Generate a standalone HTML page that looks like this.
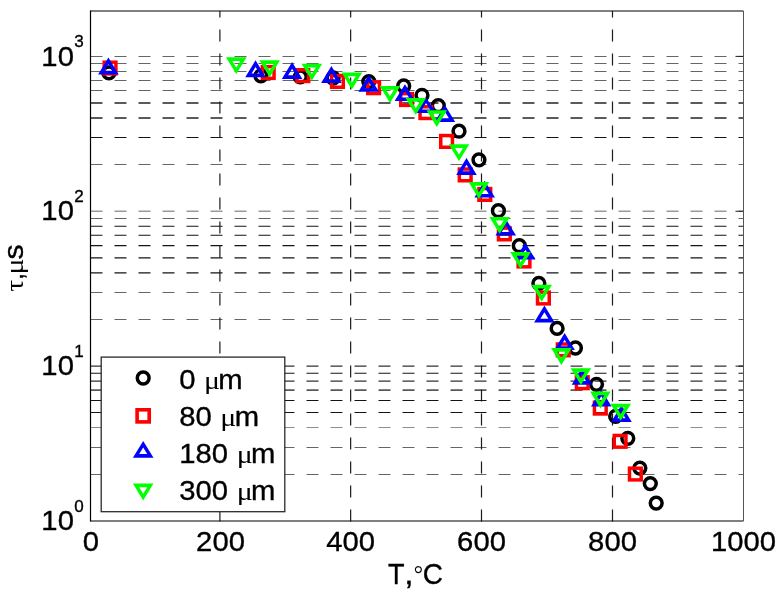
<!DOCTYPE html>
<html lang="en"><head><meta charset="utf-8"><title>τ vs T</title>
<style>html,body{margin:0;padding:0;background:#fff;}body{width:782px;height:594px;overflow:hidden;}svg{display:block;}text{font-family:"Liberation Sans",sans-serif;fill:#000;stroke:#000;stroke-width:0.35px;}.sy{font-family:"Liberation Serif","DejaVu Serif",serif;stroke:none;}</style></head><body>
<svg width="782" height="594" viewBox="0 0 782 594">
<rect x="0" y="0" width="782" height="594" fill="#fff"/>
<g fill="none" stroke-dasharray="12 12">
<line x1="90.5" y1="56.50" x2="743.5" y2="56.50" stroke="#666666" stroke-width="1.0"/>
<line x1="90.5" y1="63.50" x2="743.5" y2="63.50" stroke="#666666" stroke-width="1.0"/>
<line x1="90.5" y1="71.50" x2="743.5" y2="71.50" stroke="#666666" stroke-width="1.0"/>
<line x1="90.5" y1="80.50" x2="743.5" y2="80.50" stroke="#666666" stroke-width="1.0"/>
<line x1="90.5" y1="90.50" x2="743.5" y2="90.50" stroke="#666666" stroke-width="1.0"/>
<line x1="90.5" y1="103.01" x2="743.5" y2="103.01" stroke="#5a5a5a" stroke-width="1.9"/>
<line x1="90.5" y1="118.02" x2="743.5" y2="118.02" stroke="#5a5a5a" stroke-width="1.9"/>
<line x1="90.5" y1="137.50" x2="743.5" y2="137.50" stroke="#141414" stroke-width="1.0"/>
<line x1="90.5" y1="164.50" x2="743.5" y2="164.50" stroke="#666666" stroke-width="1.0"/>
<line x1="90.5" y1="211.26" x2="743.5" y2="211.26" stroke="#9a9a9a" stroke-width="1.7"/>
<line x1="90.5" y1="218.50" x2="743.5" y2="218.50" stroke="#666666" stroke-width="1.0"/>
<line x1="90.5" y1="226.27" x2="743.5" y2="226.27" stroke="#141414" stroke-width="1.15"/>
<line x1="90.5" y1="235.25" x2="743.5" y2="235.25" stroke="#141414" stroke-width="1.15"/>
<line x1="90.5" y1="245.62" x2="743.5" y2="245.62" stroke="#141414" stroke-width="1.15"/>
<line x1="90.5" y1="257.88" x2="743.5" y2="257.88" stroke="#141414" stroke-width="1.15"/>
<line x1="90.5" y1="272.89" x2="743.5" y2="272.89" stroke="#141414" stroke-width="1.15"/>
<line x1="90.5" y1="292.50" x2="743.5" y2="292.50" stroke="#666666" stroke-width="1.0"/>
<line x1="90.5" y1="319.50" x2="743.5" y2="319.50" stroke="#666666" stroke-width="1.0"/>
<line x1="90.5" y1="366.13" x2="743.5" y2="366.13" stroke="#333333" stroke-width="1.45"/>
<line x1="90.5" y1="373.22" x2="743.5" y2="373.22" stroke="#141414" stroke-width="1.15"/>
<line x1="90.5" y1="381.14" x2="743.5" y2="381.14" stroke="#333333" stroke-width="1.45"/>
<line x1="90.5" y1="390.12" x2="743.5" y2="390.12" stroke="#5a5a5a" stroke-width="1.9"/>
<line x1="90.5" y1="400.50" x2="743.5" y2="400.50" stroke="#141414" stroke-width="1.0"/>
<line x1="90.5" y1="412.50" x2="743.5" y2="412.50" stroke="#141414" stroke-width="1.0"/>
<line x1="90.5" y1="427.50" x2="743.5" y2="427.50" stroke="#8c8c8c" stroke-width="1.0"/>
<line x1="90.5" y1="447.50" x2="743.5" y2="447.50" stroke="#666666" stroke-width="1.0"/>
<line x1="90.5" y1="474.50" x2="743.5" y2="474.50" stroke="#666666" stroke-width="1.0"/>
</g>
<g stroke="#1c1c1c" stroke-width="1.2" fill="none" stroke-dasharray="12 12">
<line x1="219.9" y1="521.5" x2="219.9" y2="11.0"/>
<line x1="350.65" y1="521.5" x2="350.65" y2="11.0"/>
<line x1="481.5" y1="521.5" x2="481.5" y2="11.0"/>
<line x1="612.5" y1="521.5" x2="612.5" y2="11.0"/>
</g>
<g stroke="#1c1c1c" stroke-width="1" fill="none">
<line x1="735.5" y1="366.13" x2="743.5" y2="366.13"/>
<line x1="735.5" y1="211.26" x2="743.5" y2="211.26"/>
<line x1="735.5" y1="56.39" x2="743.5" y2="56.39"/>
</g>
<line x1="90.5" y1="11.0" x2="743.5" y2="11.0" stroke="#000" stroke-width="1.1"/>
<line x1="90.5" y1="521.0" x2="743.5" y2="521.0" stroke="#000" stroke-width="1.1"/>
<line x1="743.5" y1="11.0" x2="743.5" y2="521.0" stroke="#555" stroke-width="1.0"/>
<line x1="90.5" y1="10.5" x2="90.5" y2="521.5" stroke="#000" stroke-width="1.2"/>
<g>
<circle cx="108.90" cy="72.90" r="5.9" fill="none" stroke="#000" stroke-width="3.5"/>
<circle cx="260.90" cy="75.80" r="5.9" fill="none" stroke="#000" stroke-width="3.5"/>
<circle cx="300.30" cy="76.90" r="5.9" fill="none" stroke="#000" stroke-width="3.5"/>
<circle cx="333.10" cy="78.00" r="5.9" fill="none" stroke="#000" stroke-width="3.5"/>
<circle cx="368.80" cy="81.60" r="5.9" fill="none" stroke="#000" stroke-width="3.5"/>
<circle cx="403.70" cy="85.90" r="5.9" fill="none" stroke="#000" stroke-width="3.5"/>
<circle cx="422.00" cy="95.30" r="5.9" fill="none" stroke="#000" stroke-width="3.5"/>
<circle cx="438.30" cy="105.70" r="5.9" fill="none" stroke="#000" stroke-width="3.5"/>
<circle cx="459.00" cy="131.20" r="5.9" fill="none" stroke="#000" stroke-width="3.5"/>
<circle cx="478.95" cy="159.85" r="5.9" fill="none" stroke="#000" stroke-width="3.5"/>
<circle cx="498.40" cy="210.70" r="5.9" fill="none" stroke="#000" stroke-width="3.5"/>
<circle cx="519.30" cy="245.70" r="5.9" fill="none" stroke="#000" stroke-width="3.5"/>
<circle cx="538.85" cy="283.35" r="5.9" fill="none" stroke="#000" stroke-width="3.5"/>
<circle cx="557.10" cy="328.40" r="5.9" fill="none" stroke="#000" stroke-width="3.5"/>
<circle cx="575.40" cy="348.00" r="5.9" fill="none" stroke="#000" stroke-width="3.5"/>
<circle cx="596.50" cy="384.30" r="5.9" fill="none" stroke="#000" stroke-width="3.5"/>
<circle cx="615.65" cy="416.30" r="5.9" fill="none" stroke="#000" stroke-width="3.5"/>
<circle cx="627.80" cy="438.30" r="5.9" fill="none" stroke="#000" stroke-width="3.5"/>
<circle cx="639.85" cy="468.10" r="5.9" fill="none" stroke="#000" stroke-width="3.5"/>
<circle cx="650.30" cy="483.60" r="5.9" fill="none" stroke="#000" stroke-width="3.5"/>
<circle cx="656.20" cy="503.10" r="5.9" fill="none" stroke="#000" stroke-width="3.5"/>
<rect x="104.20" y="62.20" width="11.7" height="11.7" fill="none" stroke="#ff0000" stroke-width="3.5"/>
<rect x="262.35" y="66.65" width="11.7" height="11.7" fill="none" stroke="#ff0000" stroke-width="3.5"/>
<rect x="296.95" y="69.75" width="11.7" height="11.7" fill="none" stroke="#ff0000" stroke-width="3.5"/>
<rect x="331.60" y="75.55" width="11.7" height="11.7" fill="none" stroke="#ff0000" stroke-width="3.5"/>
<rect x="367.75" y="81.85" width="11.7" height="11.7" fill="none" stroke="#ff0000" stroke-width="3.5"/>
<rect x="400.75" y="93.65" width="11.7" height="11.7" fill="none" stroke="#ff0000" stroke-width="3.5"/>
<rect x="420.05" y="106.75" width="11.7" height="11.7" fill="none" stroke="#ff0000" stroke-width="3.5"/>
<rect x="440.75" y="135.55" width="11.7" height="11.7" fill="none" stroke="#ff0000" stroke-width="3.5"/>
<rect x="459.35" y="169.05" width="11.7" height="11.7" fill="none" stroke="#ff0000" stroke-width="3.5"/>
<rect x="478.95" y="188.55" width="11.7" height="11.7" fill="none" stroke="#ff0000" stroke-width="3.5"/>
<rect x="498.50" y="228.05" width="11.7" height="11.7" fill="none" stroke="#ff0000" stroke-width="3.5"/>
<rect x="518.15" y="255.15" width="11.7" height="11.7" fill="none" stroke="#ff0000" stroke-width="3.5"/>
<rect x="537.55" y="292.15" width="11.7" height="11.7" fill="none" stroke="#ff0000" stroke-width="3.5"/>
<rect x="557.40" y="344.00" width="11.7" height="11.7" fill="none" stroke="#ff0000" stroke-width="3.5"/>
<rect x="576.40" y="376.85" width="11.7" height="11.7" fill="none" stroke="#ff0000" stroke-width="3.5"/>
<rect x="594.45" y="402.25" width="11.7" height="11.7" fill="none" stroke="#ff0000" stroke-width="3.5"/>
<rect x="614.25" y="435.45" width="11.7" height="11.7" fill="none" stroke="#ff0000" stroke-width="3.5"/>
<rect x="629.50" y="468.20" width="11.7" height="11.7" fill="none" stroke="#ff0000" stroke-width="3.5"/>
<path fill="#0000ff" fill-rule="evenodd" d="M98.10 74.40L118.70 74.40L108.40 57.50ZM104.40 70.70L112.40 70.70L108.40 64.20Z"/>
<path fill="#0000ff" fill-rule="evenodd" d="M245.25 77.20L265.85 77.20L255.55 60.30ZM251.55 73.50L259.55 73.50L255.55 67.00Z"/>
<path fill="#0000ff" fill-rule="evenodd" d="M281.80 79.00L302.40 79.00L292.10 62.10ZM288.10 75.30L296.10 75.30L292.10 68.80Z"/>
<path fill="#0000ff" fill-rule="evenodd" d="M321.10 83.00L341.70 83.00L331.40 66.10ZM327.40 79.30L335.40 79.30L331.40 72.80Z"/>
<path fill="#0000ff" fill-rule="evenodd" d="M358.40 91.85L379.00 91.85L368.70 74.95ZM364.70 88.15L372.70 88.15L368.70 81.65Z"/>
<path fill="#0000ff" fill-rule="evenodd" d="M394.65 101.10L415.25 101.10L404.95 84.20ZM400.95 97.40L408.95 97.40L404.95 90.90Z"/>
<path fill="#0000ff" fill-rule="evenodd" d="M415.80 113.10L436.40 113.10L426.10 97.70ZM422.10 109.40L430.10 109.40L426.10 102.90Z"/>
<path fill="#0000ff" fill-rule="evenodd" d="M434.60 121.90L455.20 121.90L444.90 105.00ZM440.90 118.20L448.90 118.20L444.90 111.70Z"/>
<path fill="#0000ff" fill-rule="evenodd" d="M456.20 174.90L476.80 174.90L466.50 158.00ZM462.50 171.20L470.50 171.20L466.50 164.70Z"/>
<path fill="#0000ff" fill-rule="evenodd" d="M474.40 197.60L495.00 197.60L484.70 180.70ZM480.70 193.90L488.70 193.90L484.70 187.40Z"/>
<path fill="#0000ff" fill-rule="evenodd" d="M495.45 235.60L516.05 235.60L505.75 218.70ZM501.75 231.90L509.75 231.90L505.75 225.40Z"/>
<path fill="#0000ff" fill-rule="evenodd" d="M515.00 259.60L535.60 259.60L525.30 242.70ZM521.30 255.90L529.30 255.90L525.30 249.40Z"/>
<path fill="#0000ff" fill-rule="evenodd" d="M534.10 322.50L554.70 322.50L544.40 305.60ZM540.40 318.80L548.40 318.80L544.40 312.30Z"/>
<path fill="#0000ff" fill-rule="evenodd" d="M554.30 350.00L574.90 350.00L564.60 333.10ZM560.60 346.30L568.60 346.30L564.60 339.80Z"/>
<path fill="#0000ff" fill-rule="evenodd" d="M571.70 384.80L592.30 384.80L582.00 367.90ZM578.00 381.10L586.00 381.10L582.00 374.60Z"/>
<path fill="#0000ff" fill-rule="evenodd" d="M591.00 406.50L611.60 406.50L601.30 389.60ZM597.30 402.80L605.30 402.80L601.30 396.30Z"/>
<path fill="#0000ff" fill-rule="evenodd" d="M611.15 421.90L631.75 421.90L621.45 405.00ZM617.45 418.20L625.45 418.20L621.45 411.70Z"/>
<path fill="#00ff00" fill-rule="evenodd" d="M226.00 57.20L246.60 57.20L236.30 74.10ZM232.30 60.90L240.30 60.90L236.30 67.40Z"/>
<path fill="#00ff00" fill-rule="evenodd" d="M259.35 60.35L279.95 60.35L269.65 77.25ZM265.65 64.05L273.65 64.05L269.65 70.55Z"/>
<path fill="#00ff00" fill-rule="evenodd" d="M301.55 63.70L322.15 63.70L311.85 80.60ZM307.85 67.40L315.85 67.40L311.85 73.90Z"/>
<path fill="#00ff00" fill-rule="evenodd" d="M341.50 72.50L362.10 72.50L351.80 89.40ZM347.80 76.20L355.80 76.20L351.80 82.70Z"/>
<path fill="#00ff00" fill-rule="evenodd" d="M379.70 86.10L400.30 86.10L390.00 103.00ZM386.00 89.80L394.00 89.80L390.00 96.30Z"/>
<path fill="#00ff00" fill-rule="evenodd" d="M405.50 98.00L426.10 98.00L415.80 114.90ZM411.80 101.70L419.80 101.70L415.80 108.20Z"/>
<path fill="#00ff00" fill-rule="evenodd" d="M426.50 110.15L447.10 110.15L436.80 127.05ZM432.80 113.85L440.80 113.85L436.80 120.35Z"/>
<path fill="#00ff00" fill-rule="evenodd" d="M448.70 144.20L469.30 144.20L459.00 161.10ZM455.00 147.90L463.00 147.90L459.00 154.40Z"/>
<path fill="#00ff00" fill-rule="evenodd" d="M468.60 182.10L489.20 182.10L478.90 199.00ZM474.90 185.80L482.90 185.80L478.90 192.30Z"/>
<path fill="#00ff00" fill-rule="evenodd" d="M489.35 216.90L509.95 216.90L499.65 233.80ZM495.65 220.60L503.65 220.60L499.65 227.10Z"/>
<path fill="#00ff00" fill-rule="evenodd" d="M510.20 252.00L530.80 252.00L520.50 268.90ZM516.50 255.70L524.50 255.70L520.50 262.20Z"/>
<path fill="#00ff00" fill-rule="evenodd" d="M531.40 284.80L552.00 284.80L541.70 301.70ZM537.70 288.50L545.70 288.50L541.70 295.00Z"/>
<path fill="#00ff00" fill-rule="evenodd" d="M551.10 348.00L571.70 348.00L561.40 364.90ZM557.40 351.70L565.40 351.70L561.40 358.20Z"/>
<path fill="#00ff00" fill-rule="evenodd" d="M570.60 368.20L591.20 368.20L580.90 385.10ZM576.90 371.90L584.90 371.90L580.90 378.40Z"/>
<path fill="#00ff00" fill-rule="evenodd" d="M590.10 391.60L610.70 391.60L600.40 408.50ZM596.40 395.30L604.40 395.30L600.40 401.80Z"/>
<path fill="#00ff00" fill-rule="evenodd" d="M610.40 403.80L631.00 403.80L620.70 420.70ZM616.70 407.50L624.70 407.50L620.70 414.00Z"/>
</g>
<rect x="101.2" y="357.1" width="183.6" height="154.6" fill="#fff" stroke="#2a2a2a" stroke-width="1.3"/>
<circle cx="143.20" cy="378.00" r="5.9" fill="none" stroke="#000" stroke-width="3.5"/>
<rect x="137.10" y="409.80" width="12.1" height="12.1" fill="none" stroke="#ff0000" stroke-width="3.6"/>
<path fill="#0000ff" fill-rule="evenodd" d="M132.90 457.80L153.50 457.80L143.20 440.90ZM139.20 454.10L147.20 454.10L143.20 447.60Z"/>
<path fill="#00ff00" fill-rule="evenodd" d="M132.90 483.50L153.50 483.50L143.20 500.40ZM139.20 487.20L147.20 487.20L143.20 493.70Z"/>
<g transform="translate(179.3,388.7) scale(1.03,1)"><text x="0" y="0" font-size="28.4" text-anchor="start" >0</text></g>
<g transform="translate(203.90,388.7) scale(1.22,1)"><text class="sy" x="0" y="0" font-size="24.5">μ</text></g>
<g transform="translate(218.3,388.7) scale(1.03,1)"><text x="0" y="0" font-size="28.4" text-anchor="start" >m</text></g>
<g transform="translate(179.3,426.3) scale(1.03,1)"><text x="0" y="0" font-size="28.4" text-anchor="start" >80</text></g>
<g transform="translate(220.30,426.3) scale(1.22,1)"><text class="sy" x="0" y="0" font-size="24.5">μ</text></g>
<g transform="translate(234.70000000000002,426.3) scale(1.03,1)"><text x="0" y="0" font-size="28.4" text-anchor="start" >m</text></g>
<g transform="translate(179.3,462.5) scale(1.03,1)"><text x="0" y="0" font-size="28.4" text-anchor="start" >180</text></g>
<g transform="translate(236.70,462.5) scale(1.22,1)"><text class="sy" x="0" y="0" font-size="24.5">μ</text></g>
<g transform="translate(251.10000000000002,462.5) scale(1.03,1)"><text x="0" y="0" font-size="28.4" text-anchor="start" >m</text></g>
<g transform="translate(179.3,499.8) scale(1.03,1)"><text x="0" y="0" font-size="28.4" text-anchor="start" >300</text></g>
<g transform="translate(236.70,499.8) scale(1.22,1)"><text class="sy" x="0" y="0" font-size="24.5">μ</text></g>
<g transform="translate(251.10000000000002,499.8) scale(1.03,1)"><text x="0" y="0" font-size="28.4" text-anchor="start" >m</text></g>
<g transform="translate(91.0,551.2) scale(1.03,1)"><text x="0" y="0" font-size="28.4" text-anchor="middle" >0</text></g>
<g transform="translate(220.5,551.2) scale(1.03,1)"><text x="0" y="0" font-size="28.4" text-anchor="middle" >200</text></g>
<g transform="translate(350.65,551.2) scale(1.03,1)"><text x="0" y="0" font-size="28.4" text-anchor="middle" >400</text></g>
<g transform="translate(481.5,551.2) scale(1.03,1)"><text x="0" y="0" font-size="28.4" text-anchor="middle" >600</text></g>
<g transform="translate(612.5,551.2) scale(1.03,1)"><text x="0" y="0" font-size="28.4" text-anchor="middle" >800</text></g>
<g transform="translate(743.5,551.2) scale(1.03,1)"><text x="0" y="0" font-size="28.4" text-anchor="middle" >1000</text></g>
<g transform="translate(73.9,530.2) scale(1.03,1)"><text x="0" y="0" font-size="28.4" text-anchor="end" >10</text></g>
<g transform="translate(74.2,511.5) scale(1.04,1)"><text x="0" y="0" font-size="16.4" text-anchor="start" >0</text></g>
<g transform="translate(73.9,375.33) scale(1.03,1)"><text x="0" y="0" font-size="28.4" text-anchor="end" >10</text></g>
<g transform="translate(74.2,356.63) scale(1.04,1)"><text x="0" y="0" font-size="16.4" text-anchor="start" >1</text></g>
<g transform="translate(73.9,220.45999999999998) scale(1.03,1)"><text x="0" y="0" font-size="28.4" text-anchor="end" >10</text></g>
<g transform="translate(74.2,201.76) scale(1.04,1)"><text x="0" y="0" font-size="16.4" text-anchor="start" >2</text></g>
<g transform="translate(73.9,65.58999999999999) scale(1.03,1)"><text x="0" y="0" font-size="28.4" text-anchor="end" >10</text></g>
<g transform="translate(74.2,46.889999999999986) scale(1.04,1)"><text x="0" y="0" font-size="16.4" text-anchor="start" >3</text></g>
<g transform="translate(387.99,583.9) scale(0.946,1)"><text x="0" y="0" font-size="28.6">T</text></g>
<g transform="translate(404.28,583.9) scale(1.175,1)"><text x="0" y="0" font-size="28.6">,</text></g>
<g transform="translate(413.69,582.3) scale(0.999,1)"><text class="sy" x="0" y="0" font-size="23.1">°</text></g>
<g transform="translate(422.78,583.9) scale(0.977,1)"><text x="0" y="0" font-size="28.6">C</text></g>
<g transform="translate(23.3,291.86) rotate(-90) scale(1.220,1)"><text class="sy" x="0" y="0" font-size="24.5">τ</text></g>
<g transform="translate(23.3,279.79) rotate(-90) scale(0.895,1)"><text x="0" y="0" font-size="27.3">,</text></g>
<g transform="translate(23.3,274.56) rotate(-90) scale(1.220,1)"><text class="sy" x="0" y="0" font-size="24.5">μ</text></g>
<g transform="translate(23.3,259.55) rotate(-90) scale(1.117,1)"><text x="0" y="0" font-size="27.3">s</text></g>
</svg></body></html>
